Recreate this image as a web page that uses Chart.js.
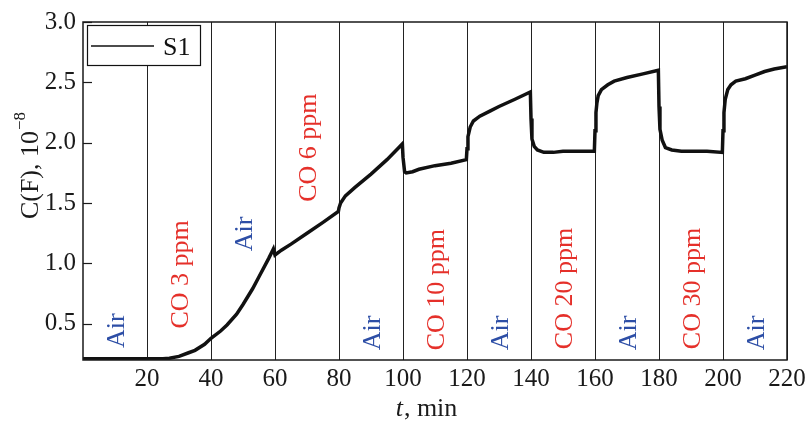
<!DOCTYPE html>
<html>
<head>
<meta charset="utf-8">
<script src="https://cdn.jsdelivr.net/npm/chart.js@4.4.1/dist/chart.umd.min.js"></script>
<style>
  html, body { margin: 0; padding: 0; background: #ffffff; }
  #wrap { width: 811px; height: 424px; position: relative; }
</style>
</head>
<body>
<div id="wrap"><canvas id="c" width="811" height="424"></canvas></div>
<script>
// ---- data ----
const timeMin = [0, 5, 10, 15, 20, 25, 27, 30, 33, 35, 38, 40, 43, 45, 48, 50, 53, 55, 58, 59.5,
  60, 62, 65, 70, 75, 79.8, 80, 80.5, 82, 85, 90, 95, 99.8,
  100, 100.5, 101, 103, 105, 110, 115, 119.8,
  120, 120.3, 121, 122, 124, 127, 130, 135, 139.8,
  140, 140.3, 141, 142, 144, 147, 150, 155, 159.8,
  160, 160.3, 160.6, 161, 162, 164, 166, 170, 175, 179.8,
  180, 180.3, 181, 182, 184, 187, 190, 195, 199.8,
  200, 200.3, 200.7, 201.5, 202.5, 204, 207, 210, 213, 216, 220];
const capS1 = [0.21, 0.21, 0.21, 0.21, 0.21, 0.21, 0.215, 0.23, 0.26, 0.28, 0.33, 0.38, 0.44, 0.49, 0.58, 0.66, 0.79, 0.89, 1.04, 1.12,
  1.07, 1.11, 1.16, 1.25, 1.34, 1.43, 1.46, 1.50, 1.56, 1.63, 1.74, 1.86, 1.99,
  1.88, 1.76, 1.75, 1.76, 1.78, 1.81, 1.83, 1.86,
  1.95, 2.05, 2.13, 2.18, 2.22, 2.26, 2.30, 2.36, 2.42,
  2.20, 2.03, 1.97, 1.94, 1.92, 1.92, 1.93, 1.93, 1.93,
  2.10, 2.25, 2.33, 2.39, 2.44, 2.48, 2.51, 2.54, 2.57, 2.60,
  2.30, 2.11, 2.02, 1.96, 1.94, 1.93, 1.93, 1.93, 1.92,
  2.10, 2.25, 2.36, 2.44, 2.48, 2.51, 2.53, 2.56, 2.59, 2.61, 2.63];
const xTicks = [20, 40, 60, 80, 100, 120, 140, 160, 180, 200, 220];
const yTicks = [0.5, 1.0, 1.5, 2.0, 2.5, 3.0];
const phaseText = ["Air", "CO 3 ppm", "Air", "CO 6 ppm", "Air", "CO 10 ppm", "Air", "CO 20 ppm", "Air", "CO 30 ppm", "Air"];
const phaseStart = [0, 20, 40, 60, 80, 100, 120, 140, 160, 180, 200];
const phaseEnd = [20, 40, 60, 80, 100, 120, 140, 160, 180, 200, 220];
const phaseLabelBase = [0.30, 0.46, 1.10, 1.51, 0.28, 0.28, 0.28, 0.29, 0.28, 0.29, 0.28];
const seriesName = "S1";

const SERIF = "'Liberation Serif', 'Times New Roman', Tinos, serif";
const BLUE = "#2d4ea6";
const RED = "#e5302a";

const decor = {
  id: 'decor',
  afterDatasetsDraw(chart) {
    const ctx = chart.ctx;
    const a = chart.chartArea;
    const xs = chart.scales.x, ys = chart.scales.y;
    ctx.save();
    ctx.strokeStyle = '#1a1a1a';
    ctx.lineWidth = 1.5;
    ctx.strokeRect(a.left, a.top, a.right - a.left, a.bottom - a.top);
    ctx.lineWidth = 1.2;
    yTicks.forEach(v => {
      const py = Math.round(ys.getPixelForValue(v)) + 0.5;
      ctx.beginPath();
      ctx.moveTo(a.left, py);
      ctx.lineTo(a.left + 9, py);
      ctx.stroke();
    });
    ctx.font = "26px " + SERIF;
    ctx.textAlign = 'left';
    ctx.textBaseline = 'alphabetic';
    phaseText.forEach((t, i) => {
      const cx = xs.getPixelForValue((phaseStart[i] + phaseEnd[i]) / 2);
      const py = ys.getPixelForValue(phaseLabelBase[i]);
      ctx.save();
      ctx.translate(cx + 9, py);
      ctx.rotate(-Math.PI / 2);
      ctx.fillStyle = t === 'Air' ? BLUE : RED;
      ctx.fillText(t, 0, 0);
      ctx.restore();
    });
    // legend
    ctx.fillStyle = '#ffffff';
    ctx.fillRect(a.left + 4, a.top + 3, 113, 40);
    ctx.strokeStyle = '#111';
    ctx.lineWidth = 1.2;
    ctx.strokeRect(a.left + 4.5, a.top + 3.5, 113, 40);
    ctx.lineWidth = 1.5;
    ctx.beginPath();
    ctx.moveTo(a.left + 8, a.top + 24);
    ctx.lineTo(a.left + 71, a.top + 24);
    ctx.stroke();
    ctx.fillStyle = '#111';
    ctx.font = "26px " + SERIF;
    ctx.fillText(seriesName, a.left + 80, a.top + 33);
    ctx.restore();

    // axis titles
    ctx.save();
    ctx.fillStyle = '#1a1a1a';
    ctx.textBaseline = 'alphabetic';
    const xt1 = 't', xt2 = ', min';
    ctx.font = "italic 26px " + SERIF;
    const w1 = ctx.measureText(xt1).width;
    ctx.font = "26px " + SERIF;
    const w2 = ctx.measureText(xt2).width;
    let sx = 426 - (w1 + w2) / 2;
    ctx.font = "italic 26px " + SERIF;
    ctx.fillText(xt1, sx, 416);
    ctx.font = "26px " + SERIF;
    ctx.fillText(xt2, sx + w1 + 1, 416);
    const yt1 = 'C(F), 10', yt2 = '\u22128';
    ctx.font = "26px " + SERIF;
    const m1 = ctx.measureText(yt1).width;
    ctx.font = "17px " + SERIF;
    const m2 = ctx.measureText(yt2).width;
    ctx.translate(38, 166);
    ctx.rotate(-Math.PI / 2);
    const st = -(m1 + m2) / 2;
    ctx.font = "26px " + SERIF;
    ctx.fillText(yt1, st, 0);
    ctx.font = "17px " + SERIF;
    ctx.fillText(yt2, st + m1 + 1, -13);
    ctx.restore();
  }
};

new Chart(document.getElementById('c'), {
  type: 'line',
  data: {
    datasets: [{
      label: seriesName,
      data: timeMin.map((t, i) => ({ x: t, y: capS1[i] })),
      borderColor: '#111111',
      borderWidth: 3.5,
      pointRadius: 0,
      tension: 0,
      fill: false
    }]
  },
  options: {
    responsive: false,
    animation: false,
    devicePixelRatio: 1,
    layout: { padding: { left: 0, right: 24, top: 18, bottom: 0 } },
    plugins: { legend: { display: false }, tooltip: { enabled: false } },
    scales: {
      x: {
        type: 'linear',
        min: 0, max: 220,
        afterBuildTicks: s => { s.ticks = xTicks.map(v => ({ value: v })); },
        afterFit: s => { s.height = 64; },
        grid: { drawOnChartArea: true, drawTicks: false, color: '#222', lineWidth: 1 },
        border: { display: false },
        ticks: { color: '#1a1a1a', font: { family: SERIF, size: 25 }, padding: 4, maxRotation: 0, autoSkip: false,
                 callback: v => String(v) }
      },
      y: {
        type: 'linear',
        min: 0.2, max: 3.0,
        afterBuildTicks: s => { s.ticks = yTicks.map(v => ({ value: v })); },
        afterFit: s => { s.width = 83; },
        grid: { display: false, drawTicks: false, tickLength: 0 },
        border: { display: false },
        ticks: { color: '#1a1a1a', font: { family: SERIF, size: 25 }, padding: 7,
                 callback: v => Number(v).toFixed(1) }
      }
    }
  },
  plugins: [decor]
});
</script>
</body>
</html>
